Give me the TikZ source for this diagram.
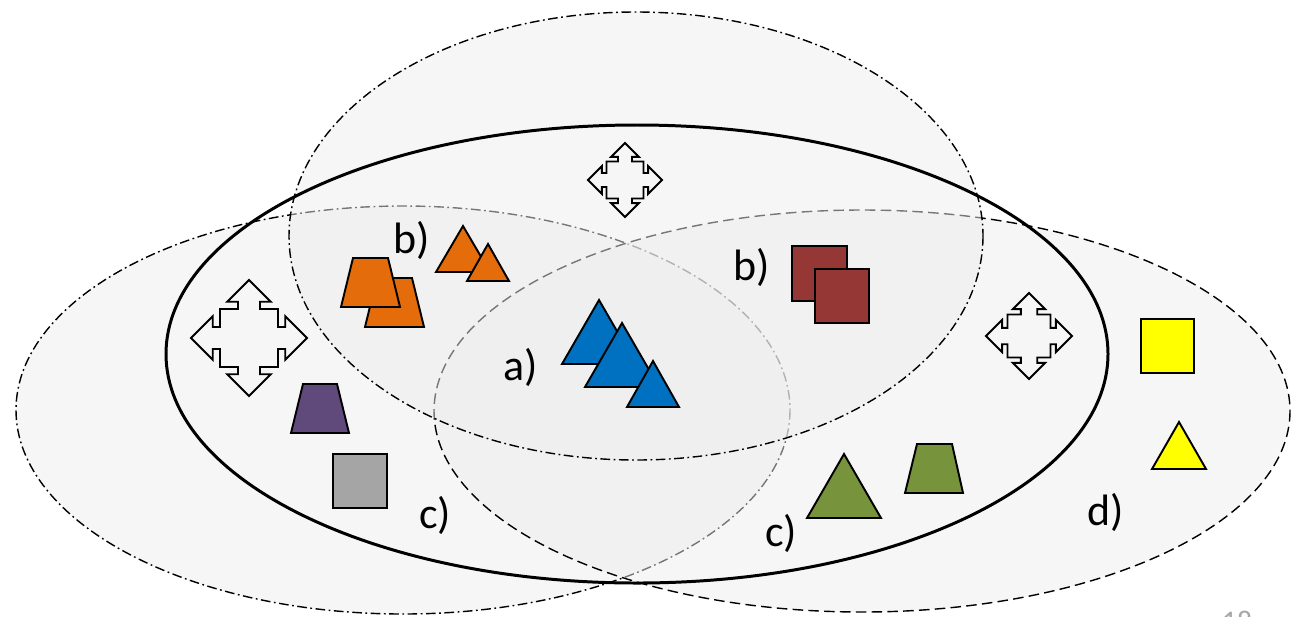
\documentclass[tikz,border=0pt]{standalone}
\usepackage{fontspec}
\setmainfont{Carlito}
\usepackage{xcolor}
\usepackage{tikz}
\usetikzlibrary{arrows.meta,shapes}

\definecolor{orng}{HTML}{E46C0A}
\definecolor{blu}{HTML}{0070C0}
\definecolor{brwn}{HTML}{953735}
\definecolor{purp}{HTML}{604A7B}
\definecolor{stone}{HTML}{A5A5A5}
\definecolor{grn}{HTML}{77933C}
\definecolor{yel}{HTML}{FFFF00}

\begin{document}
\begin{tikzpicture}[x=0.02cm,y=-0.02cm,
  set/.style={draw=black,line width=0.8pt,fill=black!7,fill opacity=0.5},
  dashdot/.style={dash pattern=on 5.5pt off 2pt on 1pt off 2pt},
  obj/.style={draw=black,line width=1.1pt,line join=miter},
  lbl/.style={font=\fontsize{25}{29}\selectfont,anchor=base,inner sep=0pt},
  kochstar/.pic={\draw[line width=1.05pt,line join=miter]
    (0,1)--(.375,.625)--(.19,.625)--(.19,.5)--(.5,.5)--(.5,.19)--(.625,.19)--(.625,.375)
    --(1,0)--(.625,-.375)--(.625,-.19)--(.5,-.19)--(.5,-.5)--(.19,-.5)--(.19,-.625)--(.375,-.625)
    --(0,-1)--(-.375,-.625)--(-.19,-.625)--(-.19,-.5)--(-.5,-.5)--(-.5,-.19)--(-.625,-.19)--(-.625,-.375)
    --(-1,0)--(-.625,.375)--(-.625,.19)--(-.5,.19)--(-.5,.5)--(-.19,.5)--(-.19,.625)--(-.375,.625)--cycle;}]
\useasboundingbox (0,0) rectangle (1293,616);
\draw[set,dashdot](403,410)ellipse[x radius=387,y radius=204];
\draw[set,dash pattern=on 6pt off 3pt](862,411)ellipse[x radius=428,y radius=201];
\draw[set,dashdot](636,236)ellipse[x radius=347,y radius=224];
\draw[line width=1.7pt](637,354)ellipse[x radius=471,y radius=229];
\pic[scale=37] at (625,180) {kochstar};
\pic[scale=58] at (249,338) {kochstar};
\pic[scale=43] at (1029,336) {kochstar};
\draw[obj,fill=orng](377,278)--(412,278)--(424,327)--(365,327)--cycle;
\draw[obj,fill=orng](353,258)--(388,258)--(400,307)--(341,307)--cycle;
\draw[obj,fill=orng](463,226)--(490,272)--(436,272)--cycle;
\draw[obj,fill=orng](488,244)--(509,281)--(467,281)--cycle;
\draw[obj,fill=blu](599,300)--(636,364)--(562,364)--cycle;
\draw[obj,fill=blu](622,323)--(659,387)--(585,387)--cycle;
\draw[obj,fill=blu](653,361)--(679,407)--(627,407)--cycle;
\draw[obj,fill=brwn](792,246)rectangle(847,301);
\draw[obj,fill=brwn](815,269)rectangle(869,323);
\draw[obj,fill=purp](303,384)--(337,384)--(349,433)--(291,433)--cycle;
\draw[obj,fill=stone](333,454)rectangle(387,508);
\draw[obj,fill=grn](844,454)--(881,518)--(807,518)--cycle;
\draw[obj,fill=grn](917,444)--(952,444)--(963,493)--(905,493)--cycle;
\draw[obj,fill=yel](1141,319)rectangle(1194,373);
\draw[obj,fill=yel](1179,422)--(1206,469)--(1152,469)--cycle;
\node[lbl](lblBl)at(412,253){b)};
\node[lbl](lblBr)at(752,280){b)};
\node[lbl](lblA)at(521,380){a)};
\node[lbl](lblCl)at(435,528){c)};
\node[lbl](lblCb)at(781,546){c)};
\node[lbl](lblD)at(1106,525){d)};
\node[anchor=north,inner sep=0pt,text=black!35,font=\fontsize{17}{20}\selectfont](pgnum)at(1237,611){18};
\end{tikzpicture}
\end{document}
